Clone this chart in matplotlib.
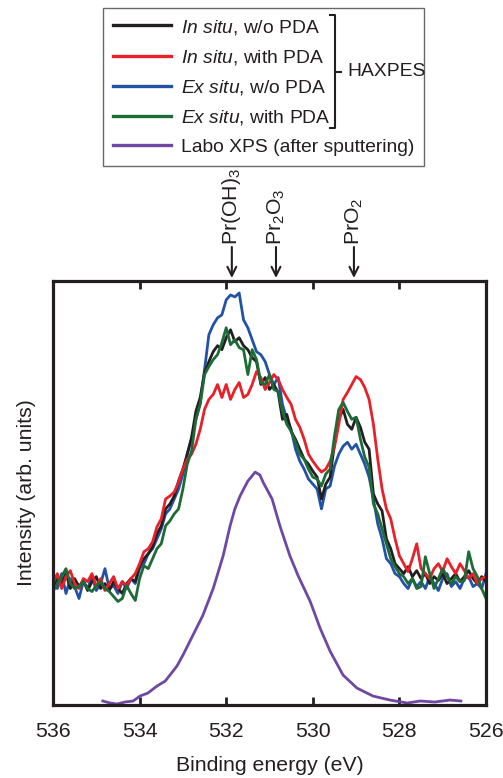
import numpy as np
import matplotlib
matplotlib.use("Agg")
import matplotlib.pyplot as plt
from matplotlib.lines import Line2D

plt.rcParams['font.family'] = ['Liberation Sans', 'DejaVu Sans']
plt.rcParams['mathtext.fontset'] = 'custom'
plt.rcParams['mathtext.rm'] = 'Liberation Sans'
plt.rcParams['mathtext.it'] = 'Liberation Sans:italic'
plt.rcParams['mathtext.bf'] = 'Liberation Sans:bold'

# ---------------- data ----------------
# HAXPES spectra on a uniform binding-energy grid from 536 eV to 526 eV
in_situ_wo = [115, 125, 120, 130, 115, 125, 117, 123, 113, 122, 127, 115, 120, 113, 122, 115, 110, 120, 125, 122,
              138, 145, 150, 157, 170, 178, 195, 200, 208, 223, 235, 250, 267, 293, 307, 332, 343, 353, 359, 355,
              367, 375, 363, 367, 359, 355, 347, 343, 320, 327, 315, 320, 312, 285, 290, 273, 265, 255, 245, 240,
              233, 227, 205, 220, 227, 260, 285, 295, 280, 275, 287, 277, 262, 255, 210, 200, 193, 165, 155, 140,
              135, 130, 137, 127, 133, 125, 130, 120, 127, 123, 130, 120, 125, 130, 122, 127, 133, 125, 120, 127, 122]
in_situ_with = [120, 130, 115, 127, 133, 120, 115, 125, 122, 130, 117, 125, 113, 120, 127, 115, 122, 118, 125, 130,
                140, 152, 155, 162, 177, 185, 205, 208, 212, 222, 235, 245, 250, 260, 275, 295, 305, 310, 320, 307,
                320, 305, 315, 322, 307, 310, 320, 333, 327, 315, 322, 330, 325, 315, 307, 300, 285, 277, 265, 250,
                243, 237, 232, 235, 243, 257, 280, 305, 312, 320, 328, 325, 317, 305, 280, 245, 215, 195, 185, 165,
                148, 140, 132, 145, 160, 135, 130, 125, 135, 140, 132, 145, 137, 130, 140, 133, 125, 130, 120, 125, 127]
ex_situ_wo = [120, 115, 130, 110, 125, 117, 105, 122, 115, 127, 113, 120, 135, 115, 118, 110, 122, 115, 125, 120,
              135, 140, 150, 155, 165, 175, 190, 195, 205, 215, 230, 250, 265, 285, 302, 335, 370, 380, 387, 390,
              405, 410, 408, 412, 385, 377, 365, 353, 350, 343, 330, 320, 327, 300, 285, 275, 255, 243, 235, 225,
              220, 215, 195, 215, 218, 238, 250, 258, 262, 255, 260, 250, 240, 227, 205, 180, 165, 145, 140, 130,
              127, 120, 115, 125, 117, 122, 115, 127, 120, 113, 125, 130, 117, 122, 115, 125, 127, 117, 120, 115, 130]
ex_situ_with = [112, 120, 127, 135, 120, 115, 117, 122, 115, 112, 118, 122, 115, 112, 107, 102, 105, 118, 110, 103,
                125, 138, 135, 145, 155, 160, 178, 183, 190, 195, 215, 240, 253, 285, 300, 330, 338, 345, 350, 362,
                377, 360, 365, 357, 355, 330, 355, 345, 322, 320, 330, 315, 313, 293, 280, 273, 262, 250, 245, 235,
                227, 225, 218, 230, 235, 268, 295, 302, 293, 285, 287, 265, 247, 237, 200, 190, 175, 160, 145, 137,
                130, 127, 120, 125, 115, 117, 147, 130, 115, 125, 135, 127, 120, 127, 122, 123, 152, 135, 127, 115, 105]

# Lab XPS spectrum (after sputtering)
labo_energy = [534.85, 534.68, 534.52, 534.34, 534.15, 533.99, 533.81, 533.60, 533.41, 533.30,
               533.14, 533.00, 532.77, 532.54, 532.30, 532.07, 531.91, 531.80, 531.68, 531.50,
               531.33, 531.22, 531.15, 530.94, 530.76, 530.53, 530.34, 530.06, 529.83, 529.60,
               529.30, 528.98, 528.61, 528.22, 527.82, 527.52, 527.18, 526.83, 526.58]
labo_xps = [2, 0, -1, 1, 2, 7, 10, 17, 22, 28,
            37, 48, 68, 88, 115, 148, 178, 195, 208, 223,
            232, 229, 222, 205, 178, 148, 128, 102, 75, 52,
            28, 15, 7, 3, 0, 2, 1, 3, 2]

series_labels = [r"$\mathit{In\ situ}$, w/o PDA", r"$\mathit{In\ situ}$, with PDA",
                 r"$\mathit{Ex\ situ}$, w/o PDA", r"$\mathit{Ex\ situ}$, with PDA",
                 "Labo XPS (after sputtering)"]
colors = ['#231f20', '#e8202a', '#2352a5', '#1d6b36', '#6e48a3']

marker_names = [r"Pr(OH)$_3$", r"Pr$_2$O$_3$", r"PrO$_2$"]
marker_energies = [531.87, 530.85, 529.05]

x_ticks = [536, 534, 532, 530, 528, 526]

FS = 15.3
LFS = 13.9

# ---------------- figure ----------------
fig = plt.figure(figsize=(5.03, 7.78), dpi=100)
ax = fig.add_axes([53/503, 1 - 705/778, 433/503, 424/778])

haxpes = [in_situ_wo, in_situ_with, ex_situ_wo, ex_situ_with]
for k in [2, 0, 1, 3]:
    y = haxpes[k]
    e = np.linspace(536, 526, len(y))
    ax.plot(e, y, color=colors[k], lw=2.0)
ax.plot(labo_energy, labo_xps, color=colors[4], lw=2.0)

handles = [Line2D([], [], color=c, lw=2.4) for c in colors]

ax.set_xlim(536, 526)
ax.set_ylim(-2, 424)
ax.set_xticks(x_ticks)
ax.set_xticklabels([str(t) for t in x_ticks])
ax.set_yticks([])
ax.tick_params(axis='x', direction='in', length=6, width=2, top=True, bottom=True,
               labelsize=FS, pad=12, colors='#231f20')
for s in ax.spines.values():
    s.set_linewidth(2.3)
    s.set_color('#231f20')

ax.set_xlabel("Binding energy (eV)", fontsize=FS, labelpad=11, color='#231f20')
ax.set_ylabel("Intensity (arb. units)", fontsize=FS, labelpad=12, color='#231f20')

# peak position markers
for name, en in zip(marker_names, marker_energies):
    ax.annotate("", xy=(en, 1.0 + 3/424), xycoords=('data', 'axes fraction'),
                xytext=(en, 1.0 + 34/424), textcoords=('data', 'axes fraction'),
                arrowprops=dict(arrowstyle='->', lw=1.5, color='#231f20', mutation_scale=16,
                                shrinkA=0, shrinkB=0))
    ax.text(en, 1.0 + 36/424, name, transform=ax.get_xaxis_transform(), rotation=90,
            ha='center', va='bottom', fontsize=FS, color='#231f20')

# legend
leg = fig.legend(handles, series_labels, loc='upper left',
                 bbox_to_anchor=(103/503, 1 - 8/778), bbox_transform=fig.transFigure,
                 fontsize=LFS, frameon=True, fancybox=False, handlelength=3.0,
                 handletextpad=0.55, labelspacing=0.58, borderpad=0.5, borderaxespad=0)
leg.get_frame().set_edgecolor('#444444')
leg.get_frame().set_linewidth(1.0)
for t in leg.get_texts():
    t.set_color('#231f20')

# HAXPES bracket
bx = 335/503
by0 = 1 - 15/778
by1 = 1 - 128/778
bm = 1 - 72/778
fig.add_artist(Line2D([bx - 5/503, bx, bx, bx - 5/503], [by0, by0, by1, by1],
                      transform=fig.transFigure, color='#231f20', lw=1.5, zorder=10))
fig.add_artist(Line2D([bx, bx + 6/503], [bm, bm], transform=fig.transFigure,
                      color='#231f20', lw=1.5, zorder=10))
fig.text(347/503, bm, "HAXPES", ha='left', va='center', fontsize=LFS, color='#231f20', zorder=10)

fig.savefig("out.png", dpi=100)
